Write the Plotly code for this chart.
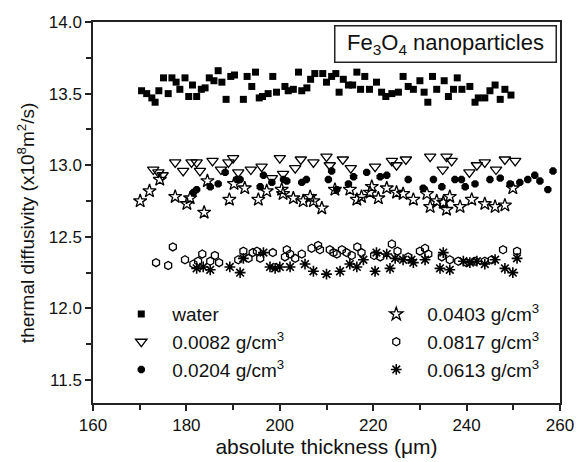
import plotly.graph_objects as go

# ---- data ----
water_x = [170.4, 171.5, 172.6, 173.3, 174.1, 175.1, 176.1, 176.9, 177.8, 178.6, 179.7, 180.5, 181.3, 182.2,
           183.2, 184.0, 184.9, 185.9, 186.8, 187.6, 188.5, 189.5, 190.3, 192.2, 193.0, 194.0, 194.8, 195.6,
           196.3, 197.5, 198.5, 199.3, 201.1, 201.8, 202.9, 204.0, 204.7, 205.8, 206.6, 207.5, 209.2, 210.0,
           211.1, 212.0, 212.7, 213.6, 214.7, 215.6, 216.5, 217.3, 218.2, 219.2, 220.7, 221.8, 222.7, 224.0,
           225.4, 226.4, 227.5, 228.6, 230.0, 230.9, 231.7, 232.7, 233.6, 235.2, 236.1, 237.2, 238.0, 239.0,
           240.7, 241.8, 242.5, 243.9, 245.0, 246.1, 247.2, 248.2, 249.5]
water_y = [13.52, 13.50, 13.47, 13.44, 13.52, 13.61, 13.50, 13.61, 13.58, 13.53, 13.61, 13.48, 13.56, 13.48,
           13.53, 13.54, 13.61, 13.59, 13.66, 13.58, 13.46, 13.62, 13.63, 13.46, 13.62, 13.55, 13.65, 13.47,
           13.48, 13.50, 13.62, 13.51, 13.55, 13.52, 13.53, 13.65, 13.52, 13.54, 13.60, 13.64, 13.64, 13.58,
           13.62, 13.64, 13.51, 13.60, 13.56, 13.56, 13.65, 13.53, 13.62, 13.53, 13.58, 13.51, 13.48, 13.50,
           13.51, 13.62, 13.55, 13.53, 13.59, 13.51, 13.44, 13.62, 13.53, 13.59, 13.48, 13.53, 13.61, 13.53,
           13.55, 13.44, 13.47, 13.47, 13.52, 13.56, 13.46, 13.53, 13.49]

c0082_x = [172.9, 174.0, 174.9, 177.6, 179.3, 181.1, 182.2, 182.9, 185.6, 187.4, 189.0, 190.0, 191.1, 193.8,
           196.1, 198.3, 200.0, 200.7, 203.3, 204.5, 207.2, 210.0, 210.7, 213.5, 215.2, 220.4, 224.0, 225.0,
           227.0, 232.2, 234.9, 235.7, 236.8, 240.6, 242.2, 243.9, 246.3, 248.2, 250.4]
c0082_y = [12.97, 12.95, 12.93, 13.02, 12.96, 13.02, 13.02, 12.96, 13.03, 12.97, 13.02, 13.05, 12.95, 12.97,
           12.99, 12.91, 13.05, 12.94, 12.98, 13.04, 13.02, 13.06, 13.00, 13.04, 12.98, 12.99, 13.03, 13.00,
           13.04, 13.06, 12.97, 13.06, 13.03, 12.95, 13.00, 13.02, 12.97, 13.04, 13.03]

c0204_x = [181.5, 182.2, 185.1, 186.8, 188.3, 190.8, 191.5, 195.8, 196.5, 198.3, 200.8, 201.5, 204.7, 205.7,
           210.4, 211.1, 212.2, 214.7, 215.8, 218.6, 221.5, 222.9, 227.5, 230.7, 232.9, 234.7, 237.5, 238.9,
           239.7, 241.8, 245.0, 247.2, 249.3, 251.4, 253.1, 254.6, 255.7, 257.4, 258.5]
c0204_y = [12.81, 12.83, 12.85, 12.87, 12.95, 12.90, 12.90, 12.85, 12.93, 12.88, 12.90, 12.89, 12.88, 12.90,
           12.90, 12.96, 12.83, 12.87, 12.92, 12.95, 12.92, 12.93, 12.90, 12.84, 12.90, 12.85, 12.90, 12.90,
           12.85, 12.87, 12.90, 12.91, 12.87, 12.88, 12.90, 12.93, 12.89, 12.83, 12.96]

c0403_x = [170.1, 172.1, 174.3, 177.6, 180.1, 180.8, 183.8, 184.5, 189.2, 190.2, 192.5, 195.4, 197.2, 200.4,
           200.7, 202.9, 205.0, 206.5, 207.2, 209.0, 211.8, 215.0, 216.5, 217.5, 219.3, 219.7, 221.1, 222.9,
           225.0, 226.4, 228.6, 231.5, 232.2, 233.6, 235.0, 235.7, 236.4, 238.6, 241.1, 243.9, 246.1, 248.2, 249.9]
c0403_y = [12.75, 12.82, 12.90, 12.78, 12.73, 12.77, 12.67, 12.89, 12.76, 12.87, 12.84, 12.76, 12.82, 12.83,
           12.80, 12.77, 12.75, 12.78, 12.75, 12.70, 12.83, 12.83, 12.76, 12.78, 12.81, 12.85, 12.77, 12.84,
           12.81, 12.80, 12.76, 12.80, 12.71, 12.75, 12.74, 12.69, 12.78, 12.71, 12.76, 12.73, 12.71, 12.72, 12.84]

c0817_x = [173.5, 176.1, 177.1, 179.7, 181.5, 182.5, 183.4, 185.1, 186.1, 187.0, 191.1, 192.2, 193.3, 194.2,
           195.1, 195.8, 198.5, 201.1, 201.5, 202.2, 203.3, 204.7, 206.8, 208.2, 208.6, 210.7, 211.5, 212.2,
           213.3, 214.3, 215.4, 216.6, 217.5, 220.2, 221.5, 224.0, 225.2, 227.5, 230.0, 231.1, 231.8, 234.7,
           236.4, 238.2, 240.0, 241.8, 243.9, 245.4, 247.8, 250.8]
c0817_y = [12.32, 12.30, 12.43, 12.34, 12.31, 12.33, 12.38, 12.33, 12.37, 12.32, 12.34, 12.40, 12.35, 12.39,
           12.40, 12.35, 12.39, 12.36, 12.41, 12.38, 12.35, 12.38, 12.42, 12.44, 12.41, 12.41, 12.39, 12.38,
           12.41, 12.39, 12.37, 12.43, 12.39, 12.37, 12.36, 12.45, 12.40, 12.36, 12.40, 12.42, 12.38, 12.36,
           12.34, 12.33, 12.32, 12.33, 12.33, 12.34, 12.41, 12.40]

c0613_x = [182.2, 183.6, 185.1, 189.3, 191.5, 192.2, 196.5, 197.9, 199.0, 200.0, 202.2, 205.4, 207.2, 210.0,
           212.9, 215.0, 216.5, 217.9, 220.4, 220.7, 222.9, 223.6, 224.7, 226.4, 228.2, 228.6, 231.1, 234.3,
           235.0, 236.4, 239.3, 240.7, 242.2, 243.9, 246.1, 248.2, 249.9, 250.8]
c0613_y = [12.28, 12.29, 12.27, 12.29, 12.25, 12.35, 12.39, 12.29, 12.28, 12.29, 12.29, 12.31, 12.26, 12.24,
           12.26, 12.31, 12.29, 12.34, 12.26, 12.39, 12.38, 12.28, 12.35, 12.34, 12.34, 12.32, 12.34, 12.28,
           12.39, 12.27, 12.33, 12.32, 12.33, 12.31, 12.34, 12.28, 12.25, 12.35]

x_ticks = [160, 180, 200, 220, 240, 260]
y_ticks = [11.5, 12.0, 12.5, 13.0, 13.5, 14.0]

FONT = "Liberation Sans, Arial, sans-serif"
INK = "#111111"

fig = go.Figure()

def add(x, y, name, symbol, size, legend, lw=1.3):
    fig.add_trace(go.Scatter(
        x=x, y=y, mode="markers", name=name, legend=legend,
        marker=dict(symbol=symbol, size=size, color="black",
                    line=dict(color="black", width=lw)),
    ))

add(water_x, water_y, "water", "square", 7, "legend", 0)
add(c0082_x, c0082_y, "0.0082 g/cm<sup>3</sup>", "triangle-down-open", 10, "legend")
add(c0204_x, c0204_y, "0.0204 g/cm<sup>3</sup>", "octagon", 8, "legend", 0)
add(c0403_x, c0403_y, "0.0403 g/cm<sup>3</sup>", "star-open", 10, "legend2")
add(c0817_x, c0817_y, "0.0817 g/cm<sup>3</sup>", "hexagon-open", 8, "legend2")
add(c0613_x, c0613_y, "0.0613 g/cm<sup>3</sup>", "asterisk-open", 9, "legend2", 1.6)

axis_common = dict(
    showline=True, linecolor="#222222", linewidth=1.5, mirror=True,
    ticks="outside", ticklen=6, tickwidth=1.5, tickcolor="#222222",
    showgrid=False, zeroline=False, automargin=False,
    tickfont=dict(family=FONT, size=17, color=INK),
)

fig.update_layout(
    width=576, height=462,
    margin=dict(l=93, r=16, t=22, b=59, autoexpand=False),
    paper_bgcolor="white", plot_bgcolor="white",
    font=dict(family=FONT, color=INK),
    xaxis=dict(range=[160, 260], tickvals=x_ticks, ticktext=[str(v) for v in x_ticks],
               minor=dict(dtick=10, tick0=160, ticks="outside", ticklen=5, tickwidth=1.5, tickcolor="#222222"),
               title=dict(text="absolute thickness (\u03bcm)", font=dict(family=FONT, size=21, color=INK), standoff=3),
               **axis_common),
    yaxis=dict(range=[11.34, 14.0], tickvals=y_ticks, ticktext=[f"{v:.1f}" for v in y_ticks],
               minor=dict(dtick=0.25, tick0=11.5, ticks="outside", ticklen=5, tickwidth=1.5, tickcolor="#222222"),
               **axis_common),
    legend=dict(x=0.037, y=0.283, xanchor="left", yanchor="top", bgcolor="rgba(0,0,0,0)", itemwidth=52,
                font=dict(family=FONT, size=19, color=INK), tracegroupgap=0, itemsizing="trace"),
    legend2=dict(x=0.583, y=0.283, xanchor="left", yanchor="top", bgcolor="rgba(0,0,0,0)", itemwidth=52,
                 font=dict(family=FONT, size=19, color=INK), tracegroupgap=0, itemsizing="trace"),
    showlegend=True,
    annotations=[
        dict(text="Fe<sub>3</sub>O<sub>4</sub> nanoparticles", xref="paper", yref="paper",
             x=0.754, y=0.941, xanchor="center", yanchor="middle", showarrow=False,
             width=218, height=33, bordercolor="#222222", borderwidth=1.5, bgcolor="white",
             font=dict(family=FONT, size=22, color=INK)),
        dict(text="thermal diffusivity (x10<sup>8</sup>m<sup>2</sup>/s)", xref="paper", yref="paper",
             x=-0.1435, y=0.472, xanchor="center", yanchor="middle", showarrow=False, textangle=-90,
             font=dict(family=FONT, size=19, color=INK)),
    ],
)

fig.write_html("out.html", config={"displayModeBar": False},
               post_script="document.body.style.margin='0';")
